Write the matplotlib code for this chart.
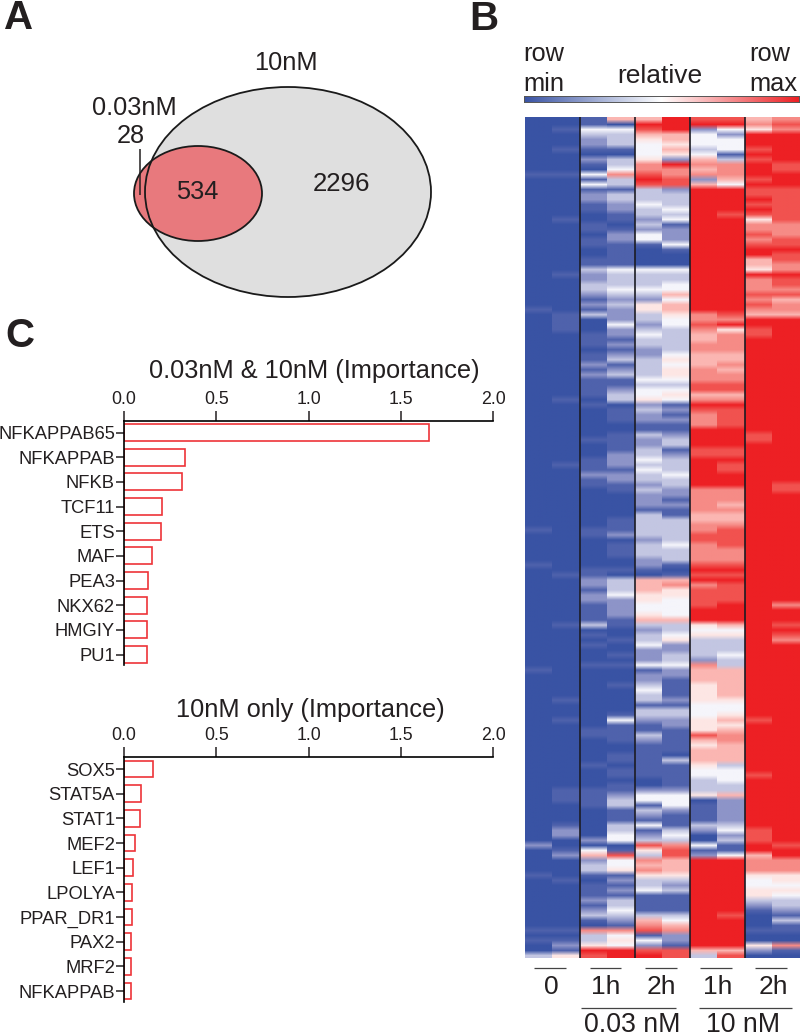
""" Panels A, B and C: venn diagram, expression heatmap and importance bars """

import numpy as np
import matplotlib
matplotlib.use( 'Agg' )
import matplotlib.pyplot as plt
from matplotlib.colors import ListedColormap, LinearSegmentedColormap
from matplotlib.patches import Ellipse

plt.rcParams[ 'font.family' ] = [ 'Liberation Sans', 'DejaVu Sans' ]

### Venn counts
venn_only_low = '28'
venn_shared = '534'
venn_only_high = '2296'

### Bars
shared_names = [ 'NFKAPPAB65', 'NFKAPPAB', 'NFKB', 'TCF11', 'ETS', 'MAF', 'PEA3', 'NKX62', 'HMGIY', 'PU1' ]
shared_values = [ 1.655, 0.33, 0.314, 0.204, 0.199, 0.153, 0.132, 0.127, 0.125, 0.122 ]
high_names = [ 'SOX5', 'STAT5A', 'STAT1', 'MEF2', 'LEF1', 'LPOLYA', 'PPAR_DR1', 'PAX2', 'MRF2', 'NFKAPPAB' ]
high_values = [ 0.159, 0.094, 0.087, 0.061, 0.047, 0.045, 0.041, 0.04, 0.038, 0.038 ]
bar_ticks = [ 0.0, 0.5, 1.0, 1.5, 2.0 ]

### Heatmap columns, one digit per row: 0 is row min, 9 is row max
control_a = ( "0000000000010000000000000000"
              "0000000000100000000000000000"
              "0000000000000000000000000010"
              "0000010000000000000000000010"
              "0000000000000000000000000000"
              "0000020000010000000000101003" )
control_b = ( "0010001000010000000010000000"
              "0001000000011110000000000000"
              "1000000000000100000000000000"
              "0000000100000000010000000000"
              "0000100010000000000000111000"
              "0122001200001000000000101215" )
low_1h_a = ( "1143221021041412211001101100"
             "1132233212130001110112121111"
             "0100000010001112110000000011"
             "0000001122122111130101000100"
             "0000000000110000010000111100"
             "0000204623310111212310733598" )
low_1h_b = ( "6043331033473313322110122111"
             "1143334323222422121231231123"
             "3011100111122212211000001112"
             "0111001033342222110010010100"
             "0100000141111001101101123311"
             "1334401844512121334321745499" )
low_2h_a = ( "6986544457789833343323244100"
             "0043334325533234332233334344"
             "5232211322334343323222133333"
             "2333221066655445632334222412"
             "2343313321132111111100244132"
             "1412385376753341111367814289" )
low_2h_b = ( "9996656529778823334341222410"
             "0043344646654433333454554345"
             "4121211233123334332212113333"
             "3433310167554444633452233422"
             "1111213322111110311111244421"
             "1134378866653231111346722188" )
high_1h_a = ( "8924443467672699999999999999"
              "9999999999977876677666777886"
              "7987779999889999997777766778"
              "8777789897888899954533332766"
              "6555544455586566654433350111"
              "1320041299999999999999999963" )
high_1h_b = ( "8942444137776499999899999999"
              "9999999999987957777667677886"
              "7988889999889889997776766788"
              "8877789898888999964533343366"
              "6666544565677666634443362222"
              "2342311499999999999899999968" )
high_2h_a = ( "6759998989998988989857787899"
              "6659777878769988999999999999"
              "9999999889999999999999999999"
              "9999999999999999999999999999"
              "9999999989999999999899999999"
              "9988899677754455321000100520" )
high_2h_b = ( "7879999998899988888887778898"
              "8779887867769999999999999999"
              "9999999999999999988999999999"
              "9999999999999799989879999999"
              "9999999999999999999999999999"
              "9999989977755454332131100710" )

heat_levels = [ '#3953a4', '#4f62ac', '#8d94c8', '#c3c6e2', '#f5f5fb',
                '#fde6e4', '#fbb6b2', '#f68b86', '#f1524f', '#ed2024' ]

FIG_W = 800.0
FIG_H = 1036.0
DARK = '#231f20'
RED = '#ee3338'

fig = plt.figure( figsize=( 8.0 , 10.36 ) , dpi=100 )

def axesFromPixels( left , top , right , bottom ):
    """ New axes placed with pixel edges measured from the top left corner. """
    return fig.add_axes( [ left / FIG_W , 1 - bottom / FIG_H , ( right - left ) / FIG_W , ( bottom - top ) / FIG_H ] )

### Overlay for texts, the venn and the small rules
canvas = axesFromPixels( 0 , 0 , FIG_W , FIG_H )
canvas.set_xlim( 0 , FIG_W )
canvas.set_ylim( FIG_H , 0 )
canvas.axis( 'off' )

def label( x , y , text , size=18.3 , ha='center' , weight='normal' ):
    canvas.text( x , y , text , fontsize=size , ha=ha , va='baseline' , color=DARK , fontweight=weight , zorder=6 )

def rule( x0 , x1 , y0 , y1 , color=DARK , width=1.0 ):
    canvas.plot( [ x0 , x1 ] , [ y0 , y1 ] , color=color , linewidth=width , solid_capstyle='butt' , zorder=5 )

### Panel letters
label( 4 , 29 , 'A' , size=29 , ha='left' , weight='bold' )
label( 469 , 30 , 'B' , size=29 , ha='left' , weight='bold' )
label( 5 , 347 , 'C' , size=29 , ha='left' , weight='bold' )

### Panel A
canvas.add_patch( Ellipse( ( 288 , 192 ) , 286 , 210 , facecolor='#dfdfdf' , edgecolor='none' , zorder=1 ) )
canvas.add_patch( Ellipse( ( 198 , 193.5 ) , 128 , 95 , facecolor='#e8797d' , edgecolor='none' , zorder=2 ) )
canvas.add_patch( Ellipse( ( 288 , 192 ) , 286 , 210 , facecolor='none' , edgecolor='#1a1a1a' , linewidth=1.3 , zorder=3 ) )
canvas.add_patch( Ellipse( ( 198 , 193.5 ) , 128 , 95 , facecolor='none' , edgecolor='#1a1a1a' , linewidth=1.3 , zorder=3 ) )
rule( 140 , 140 , 149 , 195 , width=1.1 )
label( 286 , 70 , '10nM' )
label( 134.5 , 115 , '0.03nM' )
label( 131 , 143 , venn_only_low )
label( 197.5 , 199 , venn_shared )
label( 341 , 191 , venn_only_high , size=18.6 )

### Panel B, scale bar
scale = LinearSegmentedColormap.from_list( 'scale' , [ '#3953a4' , '#ffffff' , '#ed2024' ] )
ax_scale = axesFromPixels( 524 , 96 , 799 , 102 )
ax_scale.imshow( np.linspace( 0 , 1 , 256 ).reshape( 1 , -1 ) , cmap=scale , aspect='auto' )
ax_scale.set_xticks( [] )
ax_scale.set_yticks( [] )
for side in ax_scale.spines.values():
    side.set_color( '#555555' )
    side.set_linewidth( 0.7 )
label( 523 , 61 , 'row' , ha='left' )
label( 523 , 91 , 'min' , ha='left' )
label( 660 , 83 , 'relative' , size=19 )
label( 749 , 61 , 'row' , ha='left' )
label( 749 , 91 , 'max' , ha='left' )

### Panel B, heatmap
columns = [ control_a , control_b , low_1h_a , low_1h_b , low_2h_a , low_2h_b , high_1h_a , high_1h_b , high_2h_a , high_2h_b ]
matrix = np.array( [ [ int( digit ) for digit in column ] for column in columns ] ).T
n_rows , n_cols = matrix.shape
heat_cmap = ListedColormap( heat_levels )

ax_heat = axesFromPixels( 525 , 117 , 799.5 , 958 )

### Every column is its own image, so the softening stays inside the column
for index in range( n_cols ):
    ax_heat.imshow( matrix[ : , [ index ] ] , cmap=heat_cmap , vmin=-0.5 , vmax=9.5 , aspect='auto' ,
                    interpolation='bilinear' , interpolation_stage='rgba' ,
                    extent=( index - 0.5 , index + 0.5 , n_rows - 0.5 , -0.5 ) )
ax_heat.set_xlim( -0.5 , n_cols - 0.5 )
ax_heat.set_ylim( n_rows - 0.5 , -0.5 )
ax_heat.axis( 'off' )
for boundary in [ 1.5 , 3.5 , 5.5 , 7.5 ]:
    ax_heat.axvline( boundary , color='#1c1c24' , linewidth=1.2 )

### Panel B, column labels
for x0 , x1 , text , center in [ ( 534 , 566 , '0' , 551 ) , ( 590 , 621 , '1h' , 606 ) , ( 645 , 677 , '2h' , 661 ) ,
                                 ( 700 , 732 , '1h' , 718 ) , ( 755 , 787 , '2h' , 773 ) ]:
    rule( x0 , x1 , 968 , 968 , color='#444444' , width=0.9 )
    label( center , 994 , text , size=19 )
rule( 581 , 676 , 1008 , 1008 , color='#444444' , width=0.9 )
rule( 699 , 792 , 1008 , 1008 , color='#444444' , width=0.9 )
label( 632 , 1032 , '0.03 nM' , size=19.3 )
label( 743 , 1032 , '10 nM' , size=19.3 )

def plotImportance( names , values , top , bottom , first_center ):
    """ Outlined horizontal bars with the value axis on top. """
    ax = axesFromPixels( 124 , top , 493 , bottom )
    step = 24.67
    ax.barh( range( len( names ) ) , values , height=0.68 , facecolor='white' , edgecolor=RED , linewidth=1.2 )
    ax.set_xlim( 0 , 2.0 )
    ax.set_ylim( ( bottom - first_center ) / step , ( top - first_center ) / step )
    ax.xaxis.tick_top()
    ax.set_xticks( bar_ticks )
    ax.set_xticklabels( [ '%.1f' % tick for tick in bar_ticks ] )
    ax.set_yticks( range( len( names ) ) )
    ax.set_yticklabels( names )
    ax.tick_params( axis='x' , length=7 , width=1.1 , pad=2 , labelsize=12.8 , labelcolor=DARK , color=DARK )
    ax.tick_params( axis='y' , length=6 , width=1.1 , pad=0.5 , labelsize=13.2 , labelcolor=DARK , color=DARK )
    ax.spines[ 'right' ].set_visible( False )
    ax.spines[ 'bottom' ].set_visible( False )
    ax.spines[ 'top' ].set_linewidth( 1.2 )
    ax.spines[ 'left' ].set_linewidth( 1.2 )
    ax.patch.set_alpha( 0 )

### Panel C
label( 314.5 , 378 , '0.03nM & 10nM (Importance)' )
plotImportance( shared_names , shared_values , 421 , 665 , 432.5 )
label( 310 , 717 , '10nM only (Importance)' )
plotImportance( high_names , high_values , 756.7 , 1001.7 , 769 )

fig.savefig( 'out.png' , dpi=100 )
